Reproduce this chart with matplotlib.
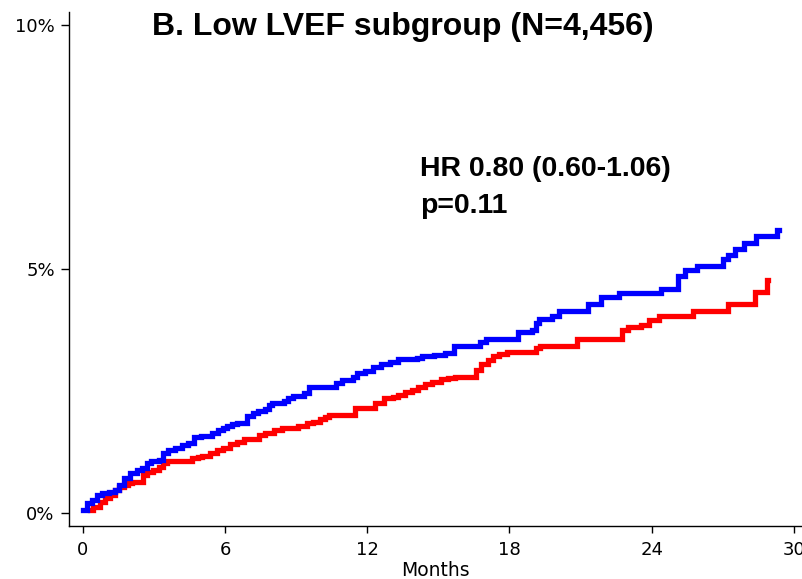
import matplotlib
matplotlib.use("Agg")
import matplotlib.pyplot as plt

plt.rcParams['font.family'] = ['DejaVu Sans']

# Blue curve (cumulative incidence, %)
blue_t = [0.0, 0.2, 0.4, 0.6, 0.8, 1.1, 1.35, 1.55, 1.75, 2.0, 2.3, 2.5, 2.7, 2.9, 3.2, 3.4,
          3.6, 3.9, 4.2, 4.45, 4.7, 5.0, 5.45, 5.7, 5.9, 6.1, 6.3, 6.5, 6.95, 7.2, 7.4, 7.7,
          7.85, 8.0, 8.5, 8.65, 8.85, 9.35, 9.55, 10.7, 10.95, 11.4, 11.55, 11.9, 12.25, 12.6,
          12.95, 13.3, 14.1, 14.3, 14.8, 15.3, 15.65, 16.75, 17.0, 18.35, 18.95, 19.1, 19.25,
          19.8, 20.1, 21.3, 21.85, 22.6, 24.4, 25.1, 25.4, 25.9, 27.0, 27.2, 27.5, 27.9, 28.4,
          29.3, 29.35]
blue_v = [0.06, 0.2, 0.27, 0.37, 0.41, 0.43, 0.47, 0.57, 0.72, 0.82, 0.88, 0.92, 1.02, 1.07,
          1.09, 1.23, 1.29, 1.33, 1.39, 1.43, 1.56, 1.58, 1.64, 1.70, 1.74, 1.78, 1.82, 1.85,
          1.98, 2.05, 2.1, 2.14, 2.21, 2.25, 2.3, 2.36, 2.39, 2.45, 2.58, 2.66, 2.72, 2.78,
          2.86, 2.92, 3.0, 3.05, 3.1, 3.15, 3.18, 3.21, 3.24, 3.28, 3.42, 3.5, 3.56, 3.71,
          3.76, 3.9, 3.98, 4.03, 4.14, 4.28, 4.43, 4.52, 4.6, 4.86, 4.98, 5.07, 5.2, 5.29,
          5.42, 5.53, 5.68, 5.8, 5.8]

# Red curve (cumulative incidence, %)
red_t = [0.3, 0.45, 0.73, 0.95, 1.15, 1.35, 1.55, 1.75, 1.9, 2.1, 2.55, 2.7, 2.95, 3.2, 3.4,
         3.55, 4.6, 4.85, 5.05, 5.35, 5.65, 5.9, 6.2, 6.5, 6.8, 7.45, 7.7, 8.05, 8.4, 9.1,
         9.45, 9.7, 10.0, 10.2, 10.4, 11.5, 12.35, 12.7, 13.1, 13.3, 13.6, 13.9, 14.15,
         14.45, 14.75, 15.1, 15.4, 15.7, 16.6, 16.8, 17.1, 17.3, 17.55, 17.9, 19.1, 19.3,
         20.85, 22.75, 23.0, 23.55, 23.9, 24.3, 25.75, 27.2, 28.35, 28.85, 28.9]
red_v = [0.06, 0.12, 0.23, 0.31, 0.37, 0.47, 0.53, 0.57, 0.61, 0.64, 0.78, 0.84, 0.88, 0.94,
         1.02, 1.06, 1.12, 1.15, 1.17, 1.23, 1.29, 1.33, 1.42, 1.46, 1.52, 1.59, 1.65, 1.70,
         1.74, 1.78, 1.84, 1.87, 1.93, 1.97, 2.0, 2.15, 2.25, 2.35, 2.38, 2.42, 2.48, 2.52,
         2.58, 2.65, 2.69, 2.74, 2.77, 2.79, 2.93, 3.06, 3.13, 3.22, 3.26, 3.3, 3.38, 3.42,
         3.57, 3.75, 3.81, 3.86, 3.96, 4.03, 4.15, 4.28, 4.53, 4.78, 4.78]

x_ticks = [0, 6, 12, 18, 24, 30]
y_ticks = [0, 5, 10]
y_ticklabels = ["0%", "5%", "10%"]

W, H = 802, 579
fig = plt.figure(figsize=(W / 100, H / 100), dpi=100)
ax = fig.add_axes([69 / W, 1 - 526 / H, 1 - 69 / W, (526 - 12) / H])

ax.plot(blue_t, blue_v, drawstyle='steps-post', color='#0000ff', lw=3.8,
        solid_joinstyle='miter', zorder=3)
ax.plot(red_t, red_v, drawstyle='steps-post', color='#ff0000', lw=3.8,
        solid_joinstyle='miter', zorder=2)

ax.set_xlim(-0.578, 30.34)
ax.set_ylim(-0.266, 10.27)
ax.set_xticks(x_ticks)
ax.set_yticks(y_ticks)
ax.set_yticklabels(y_ticklabels)
for s in ['top', 'right']:
    ax.spines[s].set_visible(False)
for s in ['left', 'bottom']:
    ax.spines[s].set_linewidth(1.0)
    ax.spines[s].set_color('black')
ax.tick_params(axis='x', length=5, width=1.0, pad=6.0, labelsize=13)
ax.tick_params(axis='y', length=6, width=1.0, pad=4.3, labelsize=13)
ax.set_xlabel("Months", fontsize=13.5, labelpad=1)

fig.text(403 / W, 1 - 35 / H, "B. Low LVEF subgroup (N=4,456)", fontsize=23,
         fontweight='bold', ha='center', va='baseline', family='Liberation Sans')
fig.text(420 / W, 1 - 176 / H, "HR 0.80 (0.60-1.06)", fontsize=20.5,
         fontweight='bold', ha='left', va='baseline', family='Liberation Sans')
fig.text(420 / W, 1 - 213 / H, "p=0.11", fontsize=20.5,
         fontweight='bold', ha='left', va='baseline', family='Liberation Sans')

fig.savefig("out.png", dpi=100)
